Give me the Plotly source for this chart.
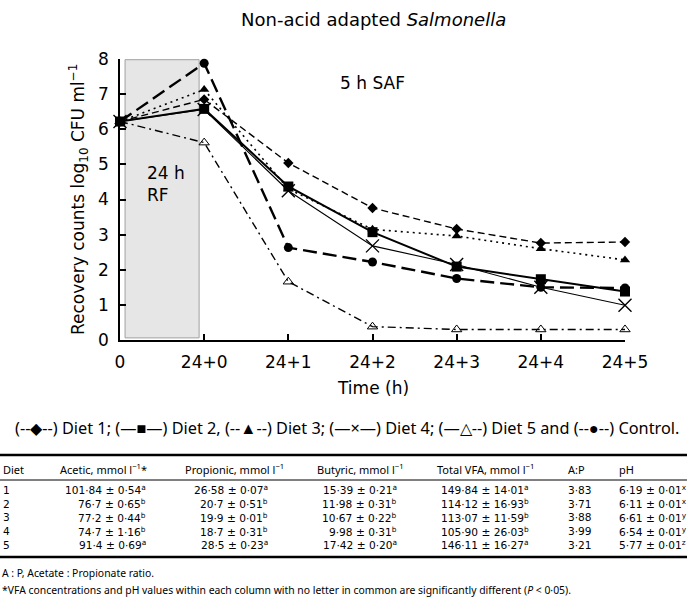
import plotly.graph_objects as go

# ---------------- chart data ----------------
time_labels = ["0", "24+0", "24+1", "24+2", "24+3", "24+4", "24+5"]
diet1 = [6.22, 6.85, 5.04, 3.76, 3.16, 2.76, 2.79]
diet2 = [6.22, 6.58, 4.37, 3.07, 2.09, 1.73, 1.38]
diet3 = [6.22, 7.13, 4.30, 3.15, 2.96, 2.60, 2.28]
diet4 = [6.22, 6.56, 4.25, 2.68, 2.15, 1.50, 0.99]
diet5 = [6.22, 5.62, 1.66, 0.38, 0.30, 0.30, 0.30]
control = [6.22, 7.88, 2.63, 2.22, 1.75, 1.50, 1.48]

# ---------------- table data ----------------
diets = ["1", "2", "3", "4", "5"]
acetic = ["101·84", "76·7", "77·2", "74·7", "91·4"]
acetic_se = ["0·54", "0·65", "0·44", "1·16", "0·69"]
acetic_sig = ["a", "b", "b", "b", "a"]
propionic = ["26·58", "20·7", "19·9", "18·7", "28·5"]
propionic_se = ["0·07", "0·51", "0·01", "0·31", "0·23"]
propionic_sig = ["a", "b", "b", "b", "a"]
butyric = ["15·39", "11·98", "10·67", "9·98", "17·42"]
butyric_se = ["0·21", "0·31", "0·22", "0·31", "0·20"]
butyric_sig = ["a", "b", "b", "b", "a"]
total_vfa = ["149·84", "114·12", "113·07", "105·90", "146·11"]
total_vfa_se = ["14·01", "16·93", "11·59", "26·03", "16·27"]
total_vfa_sig = ["a", "b", "b", "b", "a"]
ap_ratio = ["3·83", "3·71", "3·88", "3·99", "3·21"]
ph = ["6·19", "6·11", "6·61", "6·54", "5·77"]
ph_se = ["0·01", "0·01", "0·01", "0·01", "0·01"]
ph_sig = ["x", "x", "y", "y", "z"]
headers = ["Diet", "Acetic, mmol l<sup>−1</sup>*", "Propionic, mmol l<sup>−1</sup>",
           "Butyric, mmol l<sup>−1</sup>", "Total VFA, mmol l<sup>−1</sup>", "A:P", "pH"]
footnote1 = "A : P, Acetate : Propionate ratio."
footnote2 = ("*VFA concentrations and pH values within each column with no letter in common "
             "are significantly different (<i>P</i> < 0·05).")
legend_text = ("(--◆--) Diet 1; (—■—) Diet 2, (--▲--) Diet 3; (—×—) Diet 4; "
               "(—△--) Diet 5 and (--●--) Control.")

W, H = 687, 605
L, R, T, B = 120, 62, 59, 265
PW, PH = W - L - R, H - T - B


def px_x(p):
    return (p - L) / PW


def px_y(p):
    return (H - B - p) / PH


CF = "DejaVu Sans"
TF = "Noto Sans"

fig = go.Figure()

series = [
    ("Diet 1", diet1, dict(color="black", width=1.4, dash="7px,4px"), dict(symbol="diamond", size=8)),
    ("Diet 3", diet3, dict(color="black", width=1.6, dash="2px,4px"), dict(symbol="triangle-up", size=9)),
    ("Diet 5", diet5, dict(color="black", width=1.4, dash="8px,4px,2px,4px"),
     dict(symbol="triangle-up-open", size=9, line=dict(width=1))),
    ("Control", control, dict(color="black", width=2.4, dash="14px,6px"), dict(symbol="circle", size=9)),
    ("Diet 4", diet4, dict(color="black", width=1.1), dict(symbol="x-thin-open", size=13, line=dict(width=1.4))),
    ("Diet 2", diet2, dict(color="black", width=2.0), dict(symbol="square", size=10)),
]
for name, vals, ln, mk in series:
    mk = dict(mk, color="black")
    fig.add_trace(go.Scatter(x=time_labels, y=vals, name=name, mode="lines+markers",
                             line=ln, marker=mk, cliponaxis=False, showlegend=False))

# grey 24 h RF box
fig.add_shape(type="rect", xref="x", yref="y", x0=0.06, x1=0.94, y0=0.06, y1=7.98,
              fillcolor="#e6e6e6", line=dict(color="#a0a0a0", width=1), layer="below")

ann = []


def add_text(x, y, text, font, xanchor="center", yanchor="middle", xref="paper", yref="paper", **kw):
    ann.append(dict(xref=xref, yref=yref, x=x, y=y, text=text, showarrow=False,
                    xanchor=xanchor, yanchor=yanchor, font=font, **kw))


add_text(0.55, 4.45, "24 h<br>RF", dict(family=CF, size=17, color="black"),
         xref="x", yref="y", align="left")
add_text(3.0, 7.32, "5 h SAF", dict(family=CF, size=17, color="black"), xref="x", yref="y")
# title and axis titles
add_text(px_x(373), px_y(19), "Non-acid adapted <i>Salmonella</i>",
         dict(family=CF, size=18, color="black"))
add_text(px_x(78), px_y(200), "Recovery counts log<sub>10</sub> CFU ml<sup>−1</sup>",
         dict(family=CF, size=17, color="black"), textangle=-90)
add_text(px_x(373), px_y(388), "Time (h)", dict(family=CF, size=17, color="black"))
# legend line
add_text(px_x(347), px_y(428), legend_text, dict(family=TF, size=16.3, color="black"))

# table
header_x = [1, 58, 183, 315, 435, 566, 617]
row_y = [490, 503.5, 517, 531, 544.5]
hfont = dict(family=TF, size=11, color="black")
vfont = dict(family=CF, size=10.6, color="black")
for hx, htxt in zip(header_x, headers):
    add_text(px_x(hx), px_y(469), htxt, hfont, xanchor="left")


def cell(v, se, sig):
    return f"{v} ± {se}<sup>{sig}</sup>"


cols = [
    (diets, None, None, 1, "left"),
    (acetic, acetic_se, acetic_sig, 148, "right"),
    (propionic, propionic_se, propionic_sig, 270, "right"),
    (butyric, butyric_se, butyric_sig, 399, "right"),
    (total_vfa, total_vfa_se, total_vfa_sig, 531, "right"),
    (ap_ratio, None, None, 566, "left"),
    (ph, ph_se, ph_sig, 617, "left"),
]
for vals, ses, sigs, cx, anchor in cols:
    for i, v in enumerate(vals):
        txt = v if ses is None else cell(v, ses[i], sigs[i])
        add_text(px_x(cx), px_y(row_y[i]), txt, vfont, xanchor=anchor)

add_text(px_x(0), px_y(573), footnote1, dict(family=TF, size=10.4, color="black"), xanchor="left")
add_text(px_x(0), px_y(590), footnote2, dict(family=TF, size=10.4, color="black"), xanchor="left")

for yy, wd in [(455, 2.5), (480, 1), (557, 2.5)]:
    fig.add_shape(type="line", xref="paper", yref="paper", x0=px_x(0), x1=px_x(W),
                  y0=px_y(yy), y1=px_y(yy), line=dict(color="black", width=wd))

axis_common = dict(showline=True, linecolor="black", linewidth=1.5, ticks="inside", ticklen=6,
                   tickwidth=1.5, tickcolor="black", showgrid=False, zeroline=False,
                   tickfont=dict(family=CF, size=17, color="black"))
fig.update_layout(
    width=W, height=H, margin=dict(l=L, r=R, t=T, b=B, autoexpand=False),
    paper_bgcolor="white", plot_bgcolor="white",
    xaxis=dict(type="category", range=[0, 6], ticklabelstandoff=6, **axis_common),
    yaxis=dict(range=[0, 8], dtick=1, ticklabelstandoff=6, **axis_common),
    annotations=ann,
)
fig.write_html("out.html", config={"displayModeBar": False},
               post_script="document.body.style.margin='0px';document.body.style.overflow='hidden';")
